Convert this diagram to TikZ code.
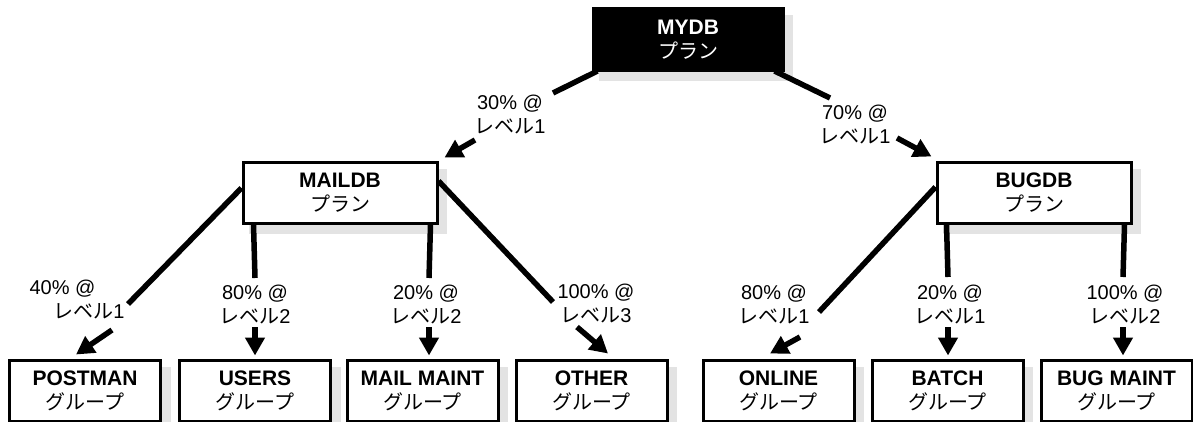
\documentclass[tikz,border=0pt]{standalone}
\usepackage{fontspec}
\setmainfont{Liberation Sans}
\newfontfamily\jp{Noto Sans CJK JP}
\usetikzlibrary{arrows.meta,calc}
\pgfdeclarelayer{shade}
\pgfdeclarelayer{wires}
\pgfsetlayers{shade,wires,main}
\definecolor{shadowgray}{gray}{0.89}
\newcommand{\boxtitle}[1]{{\fontsize{21}{24}\selectfont\bfseries #1}}

\begin{document}
\begin{tikzpicture}[x=1pt,y=-1pt,
  txt/.style={font=\fontsize{20}{24}\selectfont},
  box/.style={txt,draw,line width=3pt,fill=white,inner sep=0pt,align=center,
    minimum width=151pt,minimum height=61pt},
  midbox/.style={box,minimum width=194pt,minimum height=60pt},
  topbox/.style={box,fill=black,text=white,minimum width=190pt,minimum height=62pt},
  pct/.style={txt,inner sep=0pt,align=center},
  wire/.style={line width=5.5pt},
  arr/.style={line width=5.5pt,-{Triangle[length=18pt,width=19pt]}},
]
\useasboundingbox (0,0) rectangle (1193,422);

% plans
\node[topbox] (mydb) at (688,39.5) {\boxtitle{MYDB}\\{\jp プラン}};
\node[midbox] (mail) at (340,193) {\boxtitle{MAILDB}\\{\jp プラン}};
\node[midbox] (bug)  at (1034,193) {\boxtitle{BUGDB}\\{\jp プラン}};

% consumer groups
\node[box] (postman) at (85,390.5)    {\boxtitle{POSTMAN}\\{\jp グループ}};
\node[box] (users)   at (255,390.5)   {\boxtitle{USERS}\\{\jp グループ}};
\node[box] (mmaint)  at (422.5,390.5) {\boxtitle{MAIL MAINT}\\{\jp グループ}};
\node[box] (other)   at (591.5,390.5) {\boxtitle{OTHER}\\{\jp グループ}};
\node[box] (online)  at (778.5,390.5) {\boxtitle{ONLINE}\\{\jp グループ}};
\node[box] (batch)   at (947.5,390.5) {\boxtitle{BATCH}\\{\jp グループ}};
\node[box] (bmaint)  at (1116.5,390.5){\boxtitle{BUG MAINT}\\{\jp グループ}};

% allocation labels
\node[pct] (l30)  at (510,114.5) {30\% @\\{\jp レベル}1};
\node[pct] (l70)  at (855,124)   {70\% @\\{\jp レベル}1};
\node[pct] (l40)  at (89,299)    {40\% @\hspace*{53pt}\\{\jp レベル}1};
\node[pct] (l80u) at (255,304)   {80\% @\\{\jp レベル}2};
\node[pct] (l20m) at (426,304)   {20\% @\\{\jp レベル}2};
\node[pct] (l100o) at (596,303.5){100\% @\\{\jp レベル}3};
\node[pct] (l80o) at (774,304)   {80\% @\\{\jp レベル}1};
\node[pct] (l20b) at (950,304)   {20\% @\\{\jp レベル}1};
\node[pct] (l100b) at (1125,304) {100\% @\\{\jp レベル}2};

% ends of the wires beside the labels
\coordinate (e30) at (553,93);   \coordinate (t30) at (475,140);
\coordinate (e70) at (830,98);   \coordinate (t70) at (897,138);
\coordinate (e40) at (128,304);  \coordinate (t40) at (112,330);
\coordinate (e80u) at (255,278); \coordinate (t80u) at (255,327);
\coordinate (e20m) at (429,278); \coordinate (t20m) at (429,327);
\coordinate (e100o) at (553,302);\coordinate (t100o) at (577,327);
\coordinate (e80o) at (819,312); \coordinate (t80o) at (800,337);
\coordinate (e20b) at (948,277); \coordinate (t20b) at (948,327);
\coordinate (e100b) at (1123,277);\coordinate (t100b) at (1123,327);

\begin{pgfonlayer}{shade}
  \foreach \n in {mydb,mail,bug,postman,users,mmaint,other,online,batch,bmaint}
    \fill[shadowgray] ($(\n.north west)+(7,8)$) rectangle ($(\n.south east)+(8.5,9.5)$);
\end{pgfonlayer}

\begin{pgfonlayer}{wires}
  % MYDB
  \draw[wire] ($(mydb.south west)+(6,-1)$) -- (e30);
  \draw[arr] (t30) -- ($(mail.north east)+(6,-4)$);
  \draw[wire] ($(mydb.south east)+(-10,-1)$) -- (e70);
  \draw[arr] (t70) -- ($(bug.north west)+(-4,-5)$);
  % MAILDB
  \draw[wire] ($(mail.west)+(0,-5)$) -- (e40);
  \draw[arr] (t40) -- ($(postman.north)+(-9,-4)$);
  \draw[wire] ($(mail.south west)+(12,0)$) -- (e80u);
  \draw[arr] (t80u) -- ($(users.north)+(0,-3)$);
  \draw[wire] ($(mail.south east)+(-8,0)$) -- (e20m);
  \draw[arr] (t20m) -- ($(mmaint.north)+(6.5,-3)$);
  \draw[wire] ($(mail.east)+(0,-12)$) -- (e100o);
  \draw[arr] (t100o) -- ($(other.north)+(16.5,-5)$);
  % BUGDB
  \draw[wire] ($(bug.west)+(0,-6)$) -- (e80o);
  \draw[arr] (t80o) -- ($(online.north)+(-8.5,-5)$);
  \draw[wire] ($(bug.south west)+(11,0)$) -- (e20b);
  \draw[arr] (t20b) -- ($(batch.north)+(0.5,-3)$);
  \draw[wire] ($(bug.south east)+(-8,0)$) -- (e100b);
  \draw[arr] (t100b) -- ($(bmaint.north)+(6.5,-3)$);
\end{pgfonlayer}
\end{tikzpicture}
\end{document}
